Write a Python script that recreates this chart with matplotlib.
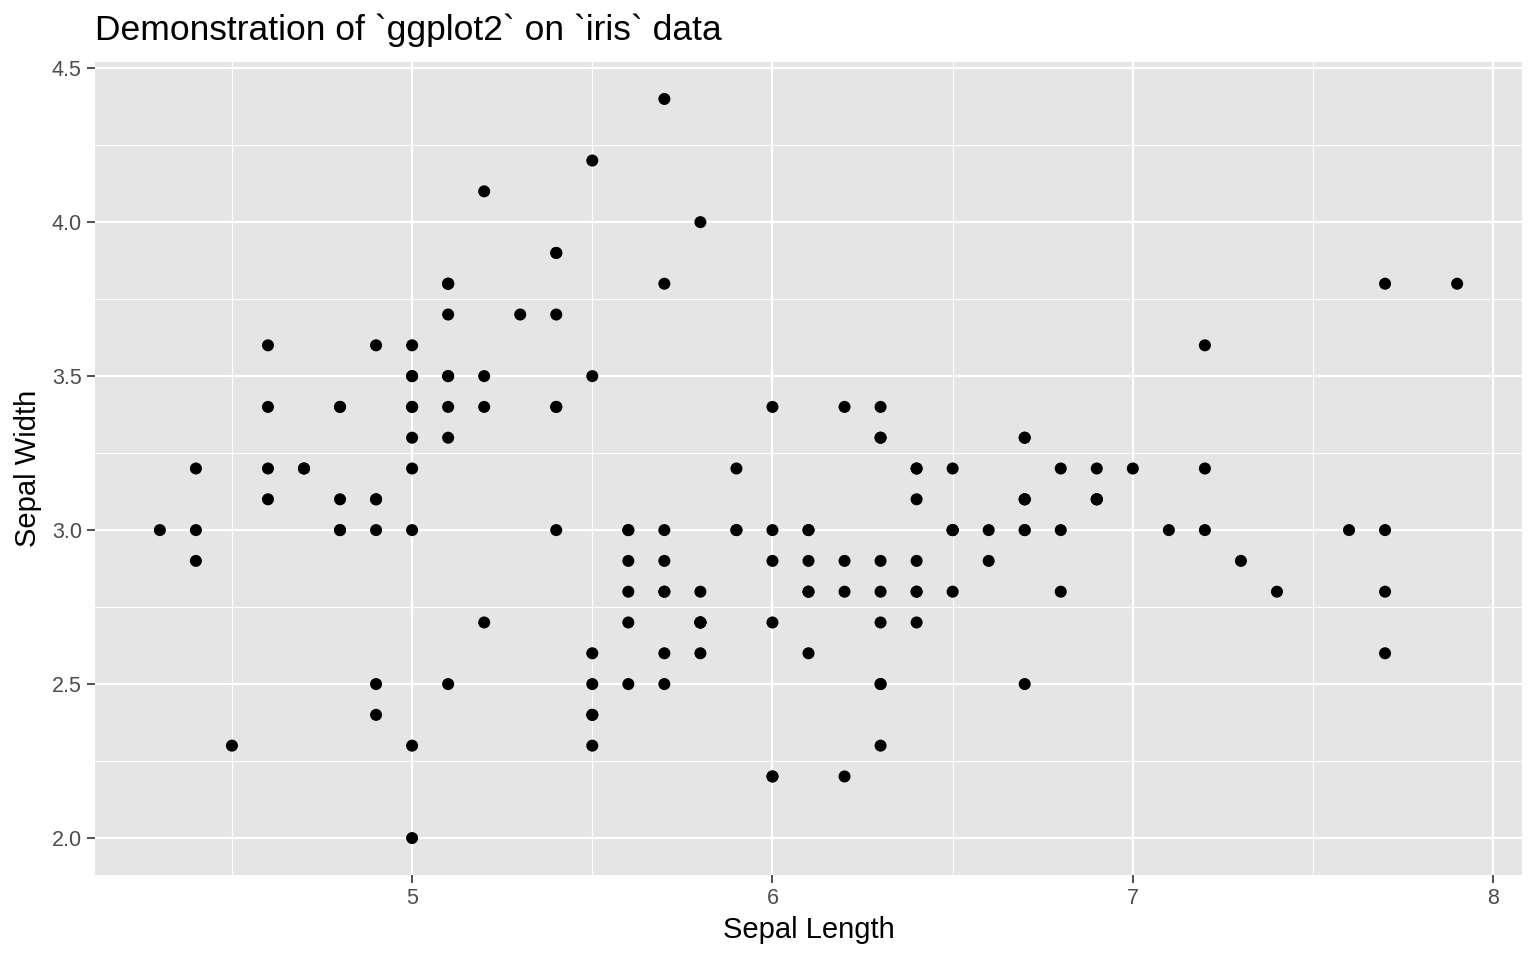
import matplotlib
matplotlib.use('Agg')
import matplotlib.pyplot as plt

# iris: sepal length / sepal width
sepal_length = [
    5.1, 4.9, 4.7, 4.6, 5.0, 5.4, 4.6, 5.0, 4.4, 4.9, 5.4, 4.8, 4.8, 4.3, 5.8, 5.7, 5.4, 5.1, 5.7, 5.1,
    5.4, 5.1, 4.6, 5.1, 4.8, 5.0, 5.0, 5.2, 5.2, 4.7, 4.8, 5.4, 5.2, 5.5, 4.9, 5.0, 5.5, 4.9, 4.4, 5.1,
    5.0, 4.5, 4.4, 5.0, 5.1, 4.8, 5.1, 4.6, 5.3, 5.0,
    7.0, 6.4, 6.9, 5.5, 6.5, 5.7, 6.3, 4.9, 6.6, 5.2, 5.0, 5.9, 6.0, 6.1, 5.6, 6.7, 5.6, 5.8, 6.2, 5.6,
    5.9, 6.1, 6.3, 6.1, 6.4, 6.6, 6.8, 6.7, 6.0, 5.7, 5.5, 5.5, 5.8, 6.0, 5.4, 6.0, 6.7, 6.3, 5.6, 5.5,
    5.5, 6.1, 5.8, 5.0, 5.6, 5.7, 5.7, 6.2, 5.1, 5.7,
    6.3, 5.8, 7.1, 6.3, 6.5, 7.6, 4.9, 7.3, 6.7, 7.2, 6.5, 6.4, 6.8, 5.7, 5.8, 6.4, 6.5, 7.7, 7.7, 6.0,
    6.9, 5.6, 7.7, 6.3, 6.7, 7.2, 6.2, 6.1, 6.4, 7.2, 7.4, 7.9, 6.4, 6.3, 6.1, 7.7, 6.3, 6.4, 6.0, 6.9,
    6.7, 6.9, 5.8, 6.8, 6.7, 6.7, 6.3, 6.5, 6.2, 5.9,
]
sepal_width = [
    3.5, 3.0, 3.2, 3.1, 3.6, 3.9, 3.4, 3.4, 2.9, 3.1, 3.7, 3.4, 3.0, 3.0, 4.0, 4.4, 3.9, 3.5, 3.8, 3.8,
    3.4, 3.7, 3.6, 3.3, 3.4, 3.0, 3.4, 3.5, 3.4, 3.2, 3.1, 3.4, 4.1, 4.2, 3.1, 3.2, 3.5, 3.6, 3.0, 3.4,
    3.5, 2.3, 3.2, 3.5, 3.8, 3.0, 3.8, 3.2, 3.7, 3.3,
    3.2, 3.2, 3.1, 2.3, 2.8, 2.8, 3.3, 2.4, 2.9, 2.7, 2.0, 3.0, 2.2, 2.9, 2.9, 3.1, 3.0, 2.7, 2.2, 2.5,
    3.2, 2.8, 2.5, 2.8, 2.9, 3.0, 2.8, 3.0, 2.9, 2.6, 2.4, 2.4, 2.7, 2.7, 3.0, 3.4, 3.1, 2.3, 3.0, 2.5,
    2.6, 3.0, 2.6, 2.3, 2.7, 3.0, 2.9, 2.9, 2.5, 2.8,
    3.3, 2.7, 3.0, 2.9, 3.0, 3.0, 2.5, 2.9, 2.5, 3.6, 3.2, 2.7, 3.0, 2.5, 2.8, 3.2, 3.0, 3.8, 2.6, 2.2,
    3.2, 2.8, 2.8, 2.7, 3.3, 3.2, 2.8, 3.0, 2.8, 3.0, 2.8, 3.8, 2.8, 2.8, 2.6, 3.0, 3.4, 3.1, 3.0, 3.1,
    3.1, 3.1, 2.7, 3.2, 3.3, 3.0, 2.5, 3.0, 3.4, 3.0,
]

x_ticks = [5, 6, 7, 8]
x_minor = [4.5, 5.5, 6.5, 7.5]
y_ticks = [2.0, 2.5, 3.0, 3.5, 4.0, 4.5]
y_minor = [2.25, 2.75, 3.25, 3.75, 4.25]

plt.rcParams['font.family'] = ['Liberation Sans', 'DejaVu Sans']

fig = plt.figure(figsize=(15.36, 9.6), dpi=100)
ax = fig.add_axes([95 / 1536, 1 - 875 / 960, (1522 - 95) / 1536, (875 - 62) / 960])
ax.set_facecolor('#E5E5E5')

# ggplot-ish grid
for v in x_minor:
    ax.axvline(v, color='white', lw=0.8, zorder=0)
for v in y_minor:
    ax.axhline(v, color='white', lw=0.8, zorder=0)
for v in x_ticks:
    ax.axvline(v, color='white', lw=1.6, zorder=0)
for v in y_ticks:
    ax.axhline(v, color='white', lw=1.6, zorder=0)

ax.scatter(sepal_length, sepal_width, s=75, color='black', edgecolors='none', zorder=3)

ax.set_xlim(4.12, 8.08)
ax.set_ylim(1.88, 4.52)
ax.set_xticks(x_ticks)
ax.set_xticklabels([str(t) for t in x_ticks])
ax.set_yticks(y_ticks)
ax.set_yticklabels(['%.1f' % t for t in y_ticks])
ax.tick_params(axis='both', colors='#333333', length=5.5, width=1.2, labelsize=15.5,
               labelcolor='#4D4D4D', pad=4)
for s in ax.spines.values():
    s.set_visible(False)

ax.set_xlabel('Sepal Length', fontsize=21, color='black', labelpad=5)
ax.set_ylabel('Sepal Width', fontsize=21, color='black', labelpad=7)
fig.text(95 / 1536, 1 - 30 / 960, 'Demonstration of `ggplot2` on `iris` data',
         fontsize=25.5, ha='left', va='center')

plt.savefig('out.png', dpi=100)
plt.close()
